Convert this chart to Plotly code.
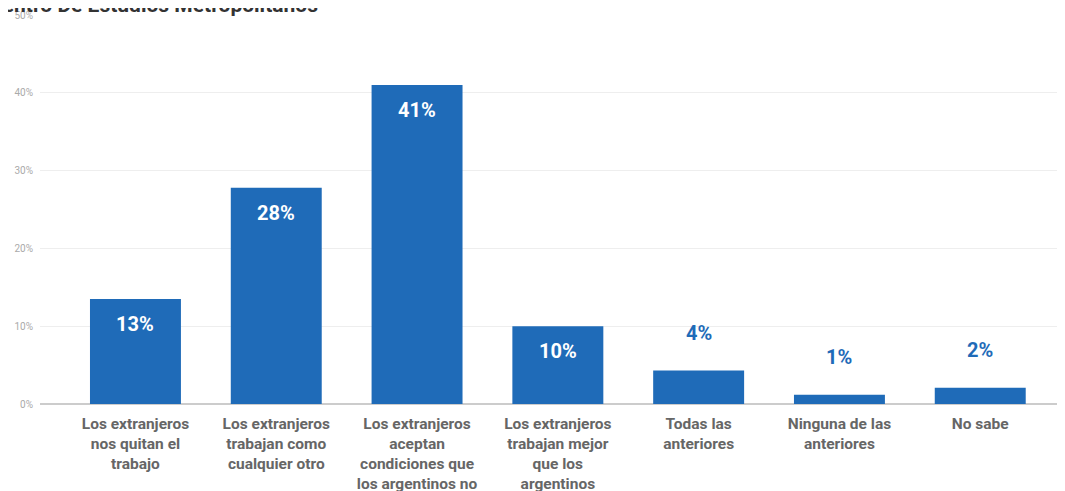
import plotly.graph_objects as go

categories = [
    "Los extranjeros<br>nos quitan el<br>trabajo",
    "Los extranjeros<br>trabajan como<br>cualquier otro",
    "Los extranjeros<br>aceptan<br>condiciones que<br>los argentinos no",
    "Los extranjeros<br>trabajan mejor<br>que los<br>argentinos",
    "Todas las<br>anteriores",
    "Ninguna de las<br>anteriores",
    "No sabe",
]
values = [13.5, 27.8, 41.0, 10.0, 4.3, 1.2, 2.1]
labels = ["13%", "28%", "41%", "10%", "4%", "1%", "2%"]
inside = [True, True, True, True, False, False, False]
y_ticks = [0, 10, 20, 30, 40, 50]
y_tick_text = ["0%", "10%", "20%", "30%", "40%", "50%"]
title_text = "Centro De Estudios Metropolitanos"

BLUE = "#1f6bb8"

fig = go.Figure()
fig.add_trace(go.Bar(
    x=list(range(len(categories))),
    y=values,
    marker=dict(color=BLUE, line=dict(width=0)),
    hoverinfo="skip",
))

annotations = []
for i, (v, lab, ins) in enumerate(zip(values, labels, inside)):
    annotations.append(dict(
        x=i, y=v, xref="x", yref="y", text=lab, showarrow=False,
        yshift=-25 if ins else 38,
        font=dict(family="Roboto", size=20, color="white" if ins else BLUE, weight="bold"),
    ))

annotations.append(dict(
    x=-0.0517, y=1.0334, xref="paper", yref="paper", xanchor="left", yanchor="middle",
    yshift=-3,
    text="<b>" + title_text + "</b>", showarrow=False,
    font=dict(family="Roboto", size=21, color="#333333"),
))

fig.update_layout(
    width=1057, height=483,
    margin=dict(l=32, r=0, t=7, b=87),
    paper_bgcolor="white", plot_bgcolor="white",
    showlegend=False,
    bargap=0.354,
    annotations=annotations,
    xaxis=dict(
        range=[-0.678, 6.602],
        tickmode="array",
        tickvals=list(range(len(categories))),
        ticktext=categories,
        tickfont=dict(family="Roboto", size=15.5, color="#666666", weight="bold"),
        showgrid=False, zeroline=False, showline=False, ticks="",
        tickangle=0, automargin=False, ticklabelstandoff=8,
    ),
    yaxis=dict(
        range=[0, 50],
        tickmode="array",
        tickvals=y_ticks,
        ticktext=y_tick_text,
        tickfont=dict(family="Roboto", size=10, color="#aaaaaa"),
        showgrid=True, gridcolor="#eeeeee", gridwidth=1,
        zeroline=True, zerolinecolor="#cccccc", zerolinewidth=1.5,
        showline=False, ticks="", automargin=False, ticklabelstandoff=6,
    ),
)

fig.write_html("out.html")
